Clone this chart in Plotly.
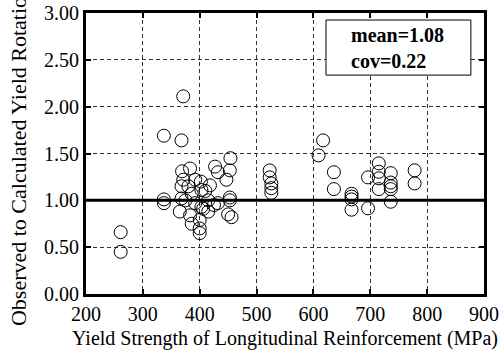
import plotly.graph_objects as go

# Yield strength of longitudinal reinforcement (MPa) and observed/calculated yield rotation ratio
fy = [261, 261,
      337, 337, 337, 371, 368, 369, 383, 371, 368, 380, 386, 368, 375, 365, 383, 386,
      392, 402, 403, 410, 403, 400, 400, 400, 406, 415, 418, 427, 432, 447, 454, 453,
      453, 453, 432, 450, 456, 415, 392, 425,
      523, 523, 526, 526, 526,
      617, 609, 636, 636,
      667, 667, 667, 667, 696, 696,
      715, 715, 715, 715, 736, 736, 736, 736, 736,
      778, 778]
ratio = [0.66, 0.45,
         1.69, 1.01, 0.97, 2.11, 1.64, 1.31, 1.34, 1.22, 1.15, 1.15, 1.07, 1.02, 1.00, 0.88, 0.84, 0.75,
         1.22, 1.20, 1.11, 1.10, 0.93, 0.79, 0.70, 0.65, 0.91, 0.88, 1.16, 1.36, 1.30, 1.22, 1.45, 1.32,
         1.03, 1.00, 0.97, 0.85, 0.82, 1.00, 0.97, 0.95,
         1.32, 1.245, 1.18, 1.13, 1.08,
         1.64, 1.48, 1.30, 1.12,
         1.07, 1.04, 1.01, 0.90, 1.245, 0.915,
         1.395, 1.305, 1.235, 1.12, 1.29, 1.19, 1.15, 1.12, 0.985,
         1.32, 1.18]

x_range = [200, 900]
y_range = [0, 3]
reference_ratio = 1.0
stats_text = "mean=1.08<br>cov=0.22"
x_title = "Yield Strength of Longitudinal Reinforcement (MPa)"
y_title = "Observed to Calculated Yield Rotation"

FONT = "Liberation Serif"

fig = go.Figure()
fig.add_trace(go.Scatter(
    x=fy, y=ratio, mode="markers",
    marker=dict(symbol="circle-open", size=13, color="black", line=dict(width=1, color="black")),
    showlegend=False, cliponaxis=False,
))

# thick reference line at ratio = 1
fig.add_shape(type="line", xref="x", yref="y",
              x0=x_range[0], x1=x_range[1], y0=reference_ratio, y1=reference_ratio,
              line=dict(color="black", width=3), layer="above")

# statistics box
fig.add_shape(type="rect", xref="paper", yref="paper",
              x0=0.603, x1=0.967, y0=0.779, y1=0.975,
              line=dict(color="black", width=1), fillcolor="white", layer="above")
fig.add_annotation(xref="paper", yref="paper", x=0.662, y=0.877,
                   xanchor="left", yanchor="middle", align="left", showarrow=False,
                   text="<b>" + stats_text + "</b>",
                   font=dict(family=FONT, size=20, color="black"))

# y-axis title (runs past the top edge of the page)
fig.add_annotation(xref="paper", yref="paper", x=-0.169, y=0.49,
                   xanchor="center", yanchor="middle", textangle=-90, showarrow=False,
                   text=y_title, font=dict(family=FONT, size=22, color="black"))

axis_common = dict(
    showline=True, linewidth=3, linecolor="black", mirror="ticks",
    ticks="inside", ticklen=5, tickwidth=2, tickcolor="black",
    showgrid=True, gridcolor="#333333", gridwidth=1, griddash="4px,3px",
    zeroline=False, automargin=False,
    tickfont=dict(family=FONT, size=20, color="black"),
)

fig.update_xaxes(range=x_range, dtick=100, tick0=200,
                 title=dict(text=x_title, font=dict(family=FONT, size=20, color="black"), standoff=8),
                 **axis_common)
fig.update_yaxes(range=y_range, dtick=0.5, tick0=0, tickformat=".2f", **axis_common)

fig.update_layout(
    width=504, height=350,
    margin=dict(l=86, r=20, t=13, b=56, autoexpand=False),
    paper_bgcolor="white", plot_bgcolor="white",
    font=dict(family=FONT, color="black"),
)

fig.write_html("out.html")
